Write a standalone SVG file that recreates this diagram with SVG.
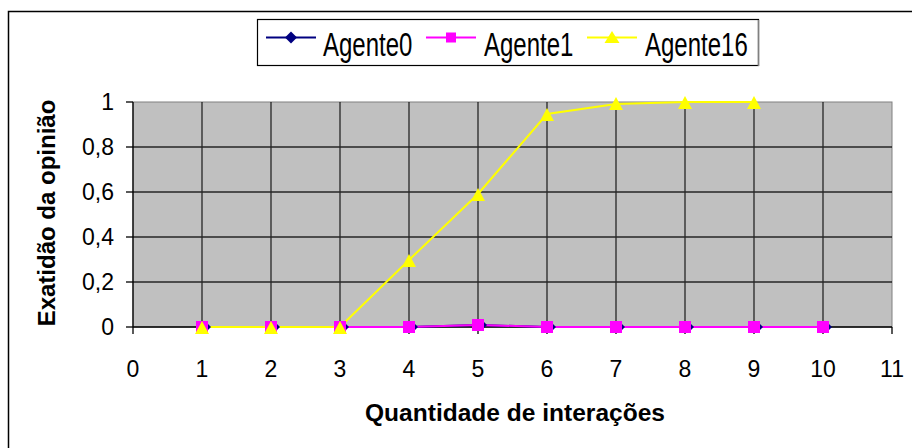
<svg xmlns="http://www.w3.org/2000/svg" width="912" height="448" viewBox="0 0 912 448">
<defs>
<style>
text{font-family:"Liberation Sans",Arial,sans-serif;fill:#000}
.tk{font-size:23px}
.lg{font-size:24px}
.ttl{font-size:24px;font-weight:bold}
.grid{stroke:#000;stroke-width:1.3;opacity:0.8}
.axis{stroke:#000;stroke-width:1.3}
.s0{fill:none;stroke:#000080;stroke-width:2}
.s1{fill:none;stroke:#ff00ff;stroke-width:2}
.s16{fill:none;stroke:#ffff00;stroke-width:2}
</style>
<path id="dia" d="M0,-6 L6,0 L0,6 L-6,0 Z" fill="#000080"/>
<rect id="sq" x="-6" y="-6" width="12" height="12" fill="#ff00ff"/>
<path id="tri" d="M0,-7 L7,6 L-7,6 Z" fill="#ffff00"/>
</defs>
<rect x="0" y="0" width="912" height="448" fill="#fff"/>
<rect x="8.5" y="11.5" width="920" height="460" fill="none" stroke="#000" stroke-width="1.5"/>
<g id="plot">
<rect x="133" y="102" width="759" height="225" fill="#c0c0c0" stroke="#808080" stroke-width="1"/>
<g class="grid">
<line x1="133" y1="147" x2="892" y2="147"/>
<line x1="133" y1="192" x2="892" y2="192"/>
<line x1="133" y1="237" x2="892" y2="237"/>
<line x1="133" y1="282" x2="892" y2="282"/>
<line x1="202" y1="102" x2="202" y2="327"/>
<line x1="271" y1="102" x2="271" y2="327"/>
<line x1="340" y1="102" x2="340" y2="327"/>
<line x1="409" y1="102" x2="409" y2="327"/>
<line x1="478" y1="102" x2="478" y2="327"/>
<line x1="547" y1="102" x2="547" y2="327"/>
<line x1="616" y1="102" x2="616" y2="327"/>
<line x1="685" y1="102" x2="685" y2="327"/>
<line x1="754" y1="102" x2="754" y2="327"/>
<line x1="823" y1="102" x2="823" y2="327"/>
</g>
<g class="axis">
<line x1="133" y1="102" x2="133" y2="327"/>
<line x1="133" y1="327" x2="892" y2="327"/>
<line x1="126" y1="102" x2="133" y2="102"/>
<line x1="126" y1="147" x2="133" y2="147"/>
<line x1="126" y1="192" x2="133" y2="192"/>
<line x1="126" y1="237" x2="133" y2="237"/>
<line x1="126" y1="282" x2="133" y2="282"/>
<line x1="126" y1="327" x2="133" y2="327"/>
<line x1="133" y1="327" x2="133" y2="334"/>
<line x1="202" y1="327" x2="202" y2="334"/>
<line x1="271" y1="327" x2="271" y2="334"/>
<line x1="340" y1="327" x2="340" y2="334"/>
<line x1="409" y1="327" x2="409" y2="334"/>
<line x1="478" y1="327" x2="478" y2="334"/>
<line x1="547" y1="327" x2="547" y2="334"/>
<line x1="616" y1="327" x2="616" y2="334"/>
<line x1="685" y1="327" x2="685" y2="334"/>
<line x1="754" y1="327" x2="754" y2="334"/>
<line x1="823" y1="327" x2="823" y2="334"/>
<line x1="892" y1="327" x2="892" y2="334"/>
</g>
<g class="tk" text-anchor="end">
<text x="114" y="110">1</text>
<text x="114" y="155">0,8</text>
<text x="114" y="200">0,6</text>
<text x="114" y="245">0,4</text>
<text x="114" y="290">0,2</text>
<text x="114" y="335">0</text>
</g>
<g class="tk" text-anchor="middle">
<text x="133" y="377">0</text>
<text x="202" y="377">1</text>
<text x="271" y="377">2</text>
<text x="340" y="377">3</text>
<text x="409" y="377">4</text>
<text x="478" y="377">5</text>
<text x="547" y="377">6</text>
<text x="616" y="377">7</text>
<text x="685" y="377">8</text>
<text x="754" y="377">9</text>
<text x="823" y="377">10</text>
<text x="892" y="377">11</text>
</g>
<text class="ttl" x="515" y="421" text-anchor="middle" textLength="300" lengthAdjust="spacingAndGlyphs" style="font-size:23px">Quantidade de interações</text>
<text class="ttl" transform="translate(55,213) rotate(-90)" text-anchor="middle">Exatidão da opinião</text>
</g>
<g id="connectors">
<polyline id="line-agente0" class="s0" points="202,327 271,327 340,327 409,327 478,325 547,327 616,327 685,327 754,327 823,327"/>
<polyline id="line-agente1" class="s1" points="202,327 271,327 340,327 409,327 478,325 547,327 616,327 685,327 754,327 823,327"/>
<polyline id="line-agente16" class="s16" points="202,327 271,327 340,327 409,260 478,194 547,114 616,104 685,102 754,102"/>
</g>
<g id="agente0">
<use href="#dia" x="205" y="327"/><use href="#dia" x="274" y="327"/><use href="#dia" x="343" y="327"/><use href="#dia" x="412" y="327"/><use href="#dia" x="481" y="325"/><use href="#dia" x="550" y="327"/><use href="#dia" x="619" y="327"/><use href="#dia" x="688" y="327"/><use href="#dia" x="757" y="327"/><use href="#dia" x="826" y="327"/>
</g>
<g id="agente1">
<use href="#sq" x="202" y="327"/><use href="#sq" x="271" y="327"/><use href="#sq" x="340" y="327"/><use href="#sq" x="409" y="327"/><use href="#sq" x="478" y="325"/><use href="#sq" x="547" y="327"/><use href="#sq" x="616" y="327"/><use href="#sq" x="685" y="327"/><use href="#sq" x="754" y="327"/><use href="#sq" x="823" y="327"/>
</g>
<g id="agente16">
<use href="#tri" x="202" y="328"/><use href="#tri" x="271" y="328"/><use href="#tri" x="340" y="328"/><use href="#tri" x="409" y="261"/><use href="#tri" x="478" y="195"/><use href="#tri" x="547" y="115"/><use href="#tri" x="616" y="104"/><use href="#tri" x="685" y="103"/><use href="#tri" x="754" y="103"/>
</g>
<g id="legend">
<rect x="257.5" y="19.5" width="501" height="46" fill="#fff" stroke="#000" stroke-width="1.2"/>
<line x1="758.5" y1="20" x2="758.5" y2="66" stroke="#808080" stroke-width="1.5"/>
<line x1="266" y1="37.5" x2="316" y2="37.5" class="s0" stroke-width="1.5"/>
<use href="#dia" x="291" y="37.5"/>
<text class="lg" transform="translate(323,56) scale(1,1.42)">Agente0</text>
<line x1="426" y1="37.5" x2="476" y2="37.5" class="s1" stroke-width="1.5"/>
<rect x="446" y="32.5" width="10" height="10" fill="#ff00ff"/>
<text class="lg" transform="translate(484,56) scale(1,1.42)">Agente1</text>
<line x1="587" y1="37.5" x2="637" y2="37.5" class="s16" stroke-width="1.5"/>
<path d="M612,31 L619.5,43 L604.5,43 Z" fill="#ffff00"/>
<text class="lg" transform="translate(645,56) scale(1,1.42)">Agente16</text>
</g>
</svg>
